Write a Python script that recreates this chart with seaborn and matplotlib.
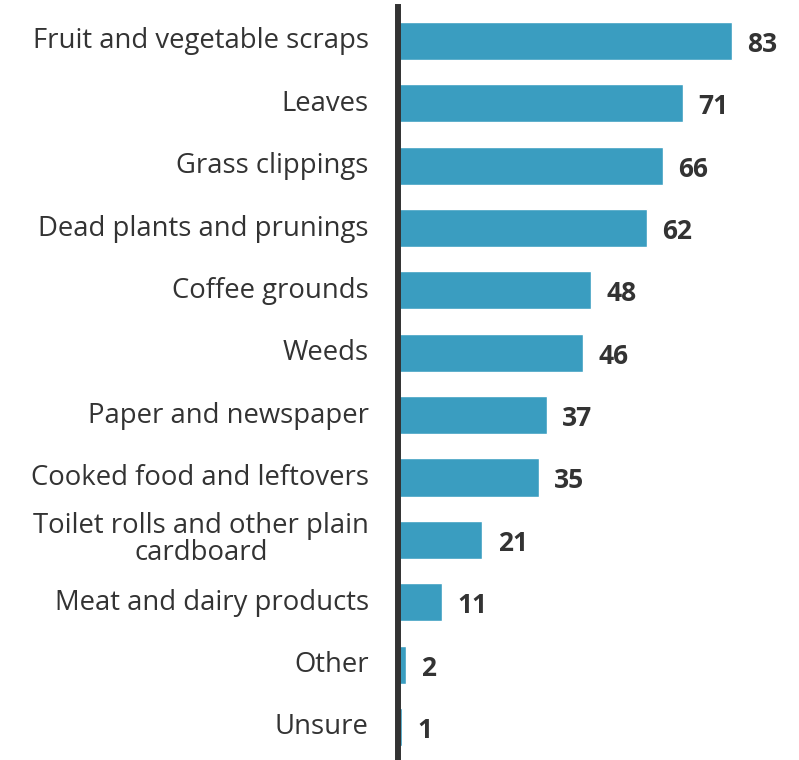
import matplotlib
matplotlib.use("Agg")
import matplotlib.pyplot as plt
import matplotlib.transforms as mtransforms
import seaborn as sns
import pandas as pd

categories = [
    "Fruit and vegetable scraps",
    "Leaves",
    "Grass clippings",
    "Dead plants and prunings",
    "Coffee grounds",
    "Weeds",
    "Paper and newspaper",
    "Cooked food and leftovers",
    "Toilet rolls and other plain\ncardboard",
    "Meat and dairy products",
    "Other",
    "Unsure",
]
values = [83, 71, 66, 62, 48, 46, 37, 35, 21, 11, 2, 1]

df = pd.DataFrame({"category": categories, "value": values})

sns.set_theme(style="white")
plt.rcParams["font.family"] = ["Open Sans", "DejaVu Sans"]

W, H = 799, 760
fig = plt.figure(figsize=(W / 100, H / 100), dpi=100)
ax_left = 398 / W
ax = fig.add_axes([ax_left, 0.0, 1 - ax_left, (760 - 7) / H])

sns.barplot(data=df, x="value", y="category", orient="h", color="#3a9dc0",
            saturation=1, width=0.61, ax=ax)

ax.set_xlim(0, 401 / 4.02)
ax.set_ylim(11.53, -0.545)

for sp in ["top", "right", "bottom"]:
    ax.spines[sp].set_visible(False)
ax.spines["left"].set_color("#333333")
ax.spines["left"].set_linewidth(4.3)
ax.spines["left"].set_zorder(5)

ax.set_xticks([])
ax.set_xlabel("")
ax.set_ylabel("")
ax.tick_params(axis="y", length=0, pad=21)
shift_up = mtransforms.ScaledTranslation(0, 3 / 100, fig.dpi_scale_trans)
for lbl in ax.get_yticklabels():
    lbl.set_fontsize(19.8)
    lbl.set_color("#333333")
    lbl.set_multialignment("center")
    lbl.set_linespacing(0.95)
    lbl.set_transform(lbl.get_transform() + shift_up)

for i, v in enumerate(values):
    ax.annotate(str(v), xy=(v, i), xytext=(11, -2.5), textcoords="offset points",
                ha="left", va="center", fontsize=19, fontweight="bold",
                color="#333333")

fig.savefig("out.png", dpi=100)
